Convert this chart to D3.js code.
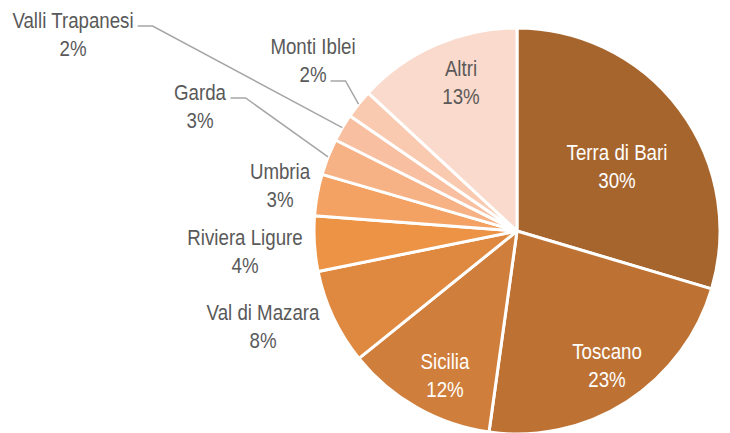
<!DOCTYPE html>
<meta charset="utf-8">
<script src="https://d3js.org/d3.v7.min.js"></script>
<style>
  body { margin: 0; background: #fff; }
</style>
<div id="my_dataviz"></div>
<script>

// data (clockwise from 12 o'clock), percent of total
var regions = ["Terra di Bari", "Toscano", "Sicilia", "Val di Mazara", "Riviera Ligure",
               "Umbria", "Garda", "Valli Trapanesi", "Monti Iblei", "Altri"];
var shares  = [29.6, 22.6, 12.0, 7.6, 4.4, 3.3, 2.9, 2.2, 2.3, 13.1];
var colors  = ["#A6652D", "#BD7234", "#D07E3B", "#DF883F", "#EC9345",
               "#F3A264", "#F6B285", "#F8BFA0", "#F9CAB0", "#FADACC"];

// label placement: offset of the label block centre from the pie centre,
// whether the text sits inside the slice, and which text line a leader line meets
var labelAt = {
  "Terra di Bari":   {dx: 100,  dy: -65,  inside: true},
  "Toscano":         {dx: 90,   dy: 134,  inside: true},
  "Sicilia":         {dx: -72,  dy: 144,  inside: true},
  "Val di Mazara":   {dx: -254, dy: 95},
  "Riviera Ligure":  {dx: -272, dy: 20},
  "Umbria":          {dx: -237, dy: -46},
  "Garda":           {dx: -317, dy: -125, leader: 0},
  "Valli Trapanesi": {dx: -444, dy: -197, leader: 0},
  "Monti Iblei":     {dx: -204, dy: -171, leader: 1},
  "Altri":           {dx: -56,  dy: -149, inside: true, dark: true}
};

var width = 730, height = 433;
var cx = 517, cy = 231, radius = 203;
var lineGap = 29;
var squeeze = 0.85;   // narrow the face horizontally to mimic a condensed font

var svg = d3.select("#my_dataviz")
  .append("svg")
    .attr("width", width)
    .attr("height", height)
    .style("font-family", "'Liberation Sans', Arial, sans-serif")
    .style("font-size", "22px");

var g = svg.append("g")
  .attr("transform", "translate(" + cx + "," + cy + ")");

var data = regions.map(function(r, i) { return {name: r, value: shares[i], color: colors[i]}; });

var pie = d3.pie()
  .sort(null)
  .value(function(d) { return d.value; });

var arc = d3.arc()
  .innerRadius(0)
  .outerRadius(radius);

var slices = pie(data);

g.selectAll("path.slice")
  .data(slices)
  .enter()
  .append("path")
    .attr("class", "slice")
    .attr("d", arc)
    .attr("fill", function(d) { return d.data.color; })
    .attr("stroke", "white")
    .attr("stroke-width", 3)
    .attr("stroke-linejoin", "round");

// labels
var labels = g.selectAll("g.label")
  .data(slices)
  .enter()
  .append("g")
    .attr("class", "label")
    .attr("transform", function(d) {
      var p = labelAt[d.data.name];
      return "translate(" + p.dx + "," + p.dy + ")";
    });

labels.each(function(d) {
  var p = labelAt[d.data.name];
  var fill = (p.inside && !p.dark) ? "#FFFFFF" : "#595959";
  var t = d3.select(this).append("g")
    .attr("transform", "scale(" + squeeze + ",1)")
    .append("text")
    .attr("text-anchor", "middle")
    .attr("fill", fill);
  t.append("tspan").attr("x", 0).attr("y", -lineGap / 2 + 8).text(d.data.name);
  t.append("tspan").attr("x", 0).attr("y", lineGap / 2 + 8).text(Math.round(d.data.value) + "%");
});

// leader lines for the crowded small slices
labels.filter(function(d) { return labelAt[d.data.name].leader !== undefined; })
  .each(function(d) {
    var p = labelAt[d.data.name];
    var line = d3.select(this).selectAll("tspan").nodes()[p.leader];
    var lb = line.getBBox();
    var right = (lb.x + lb.width) * squeeze;
    var yLine = (p.leader === 0 ? -lineGap / 2 : lineGap / 2) + 6.5;
    var mid = (d.startAngle + d.endAngle) / 2;
    var ax = Math.sin(mid) * radius - p.dx;
    var ay = -Math.cos(mid) * radius - p.dy;
    d3.select(this).append("polyline")
      .attr("points", [[right + 4, yLine], [right + 19, yLine], [ax, ay]].join(" "))
      .attr("fill", "none")
      .attr("stroke", "#A6A6A6")
      .attr("stroke-width", 1.5);
  });

</script>
